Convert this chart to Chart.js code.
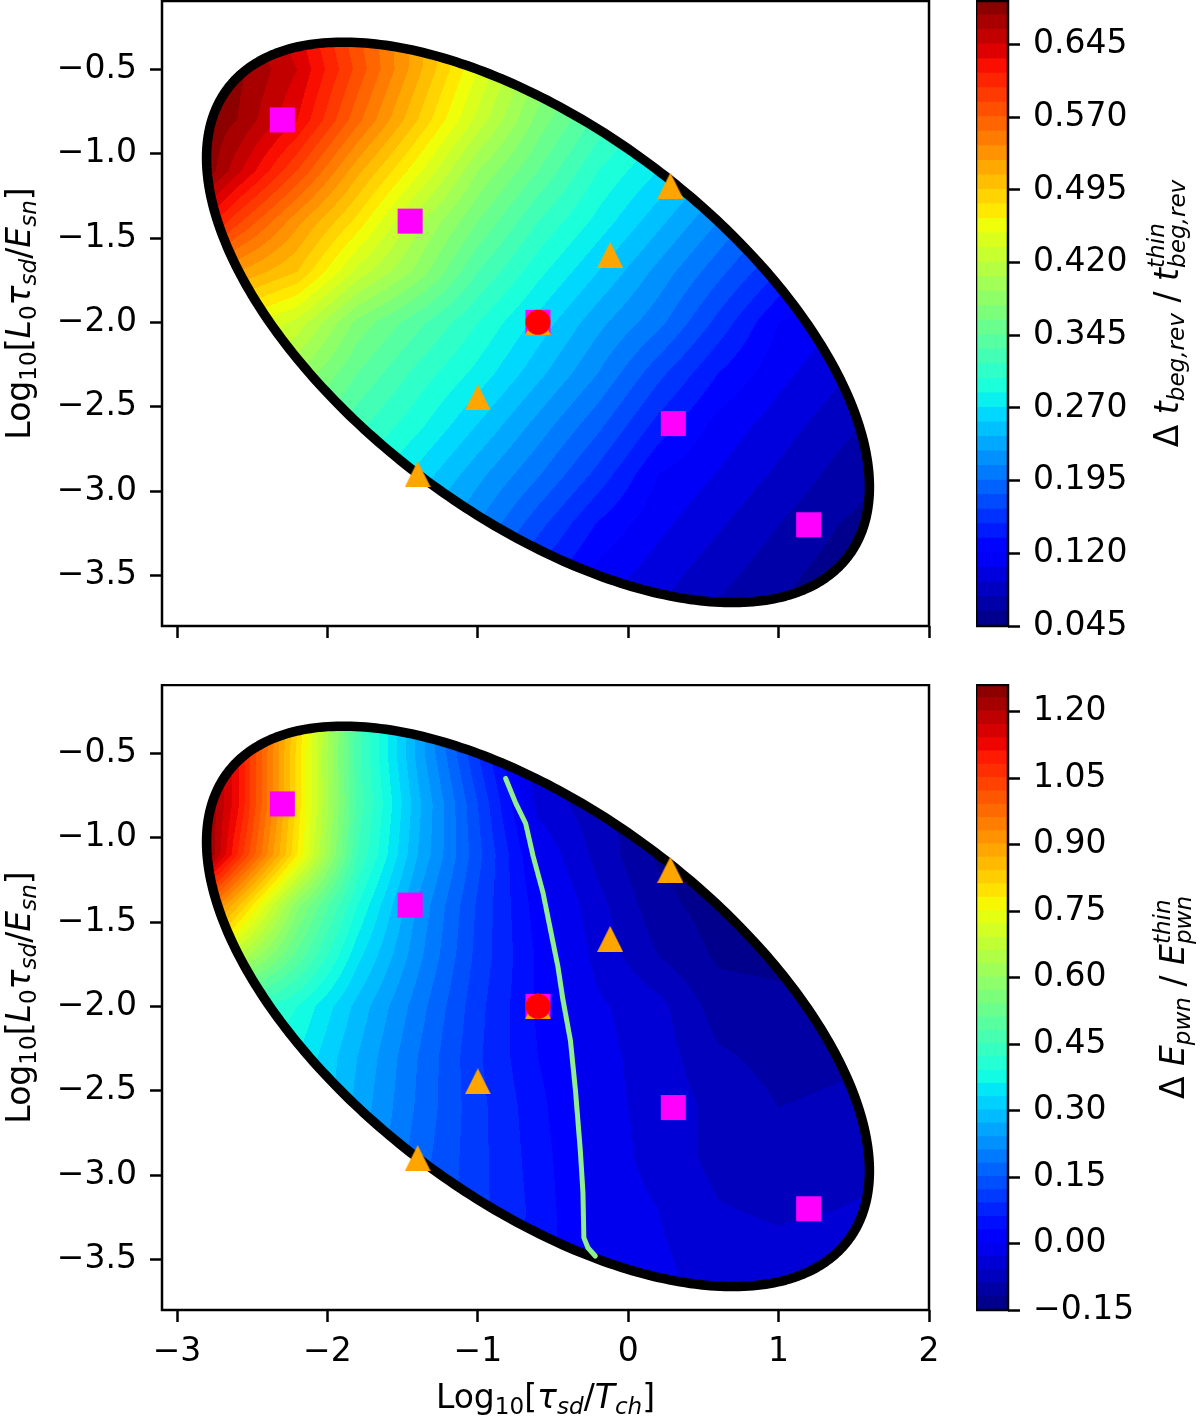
<!DOCTYPE html>
<html>
<head>
<meta charset="utf-8">
<script src="https://cdn.jsdelivr.net/npm/chart.js@4.4.0/dist/chart.umd.min.js"></script>
<style>
  html, body { margin: 0; padding: 0; background: #fff; }
  #page { position: relative; width: 1200px; height: 1418px; overflow: hidden; background: #fff; }
  #page canvas { position: absolute; }
</style>
</head>
<body>
<div id="page">
  <canvas id="main-top"></canvas>
  <canvas id="cbar-top"></canvas>
  <canvas id="main-bottom"></canvas>
  <canvas id="cbar-bottom"></canvas>
</div>
<script>
'use strict';

// ── Axes ──────────────────────────────────────────────────────
const X_RANGE = [-3.1, 2.0];
const Y_RANGE = [-3.80, -0.095];
const X_TICKS = [-3, -2, -1, 0, 1, 2];
const Y_TICKS = [-3.5, -3.0, -2.5, -2.0, -1.5, -1.0, -0.5];

// ── Markers (same in both panels) ─────────────────────────────
const SQUARE_X   = [-2.3, -1.45, -0.6, 0.3, 1.2];
const SQUARE_Y   = [-0.8, -1.4, -2.0, -2.6, -3.2];
const TRIANGLE_X = [0.28, -0.12, -0.6, -1.0, -1.4];
const TRIANGLE_Y = [-1.19, -1.6, -2.0, -2.445, -2.9];
const CENTER_X   = [-0.6];
const CENTER_Y   = [-2.0];

// ── Ellipse outline (centre, semi-axes, angle in data units) ──
const ELLIPSE_CENTER = [-0.6, -2.0];
const ELLIPSE_AXES   = [2.49, 1.19];
const ELLIPSE_ANGLE  = -32;

// ── Zero contour of the lower panel ───────────────────────────
const ZERO_X = [-0.815, -0.748, -0.682, -0.632, -0.566, -0.500, -0.467, -0.434, -0.384, -0.351, -0.318, -0.301, -0.295, -0.268, -0.219];
const ZERO_Y = [-0.649, -0.795, -0.916, -1.111, -1.329, -1.621, -1.767, -1.961, -2.204, -2.496, -2.860, -3.103, -3.371, -3.431, -3.480];

// ── Sampled fields (rows follow FIELD_Y, columns FIELD_X) ─────
const FIELD_X = [-3.0, -2.6, -2.2, -1.8, -1.4, -1.0, -0.6, -0.2, 0.2, 0.6, 1.0, 1.4, 1.8];
const FIELD_Y = [-0.2, -0.5, -0.8, -1.1, -1.4, -1.7, -2.0, -2.3, -2.6, -2.9, -3.2, -3.5, -3.8];

const TOP_FIELD = [
  [0.68, 0.67, 0.63, 0.57, 0.52, 0.46, 0.42, 0.37, 0.34, 0.30, 0.27, 0.23, 0.20],
  [0.69, 0.68, 0.645, 0.58, 0.515, 0.45, 0.39, 0.35, 0.31, 0.28, 0.245, 0.21, 0.17],
  [0.70, 0.675, 0.63, 0.56, 0.495, 0.43, 0.37, 0.325, 0.29, 0.255, 0.22, 0.19, 0.15],
  [0.72, 0.65, 0.585, 0.515, 0.455, 0.39, 0.345, 0.30, 0.27, 0.235, 0.20, 0.16, 0.12],
  [0.66, 0.59, 0.53, 0.475, 0.41, 0.36, 0.315, 0.28, 0.245, 0.21, 0.175, 0.135, 0.11],
  [0.58, 0.525, 0.495, 0.43, 0.385, 0.33, 0.29, 0.255, 0.22, 0.185, 0.15, 0.115, 0.10],
  [0.50, 0.46, 0.43, 0.37, 0.335, 0.30, 0.265, 0.23, 0.20, 0.16, 0.12, 0.105, 0.087],
  [0.51, 0.45, 0.39, 0.345, 0.31, 0.28, 0.245, 0.21, 0.17, 0.135, 0.11, 0.093, 0.075],
  [0.47, 0.41, 0.36, 0.32, 0.29, 0.255, 0.22, 0.185, 0.145, 0.115, 0.098, 0.081, 0.065],
  [0.43, 0.37, 0.335, 0.30, 0.265, 0.23, 0.197, 0.16, 0.12, 0.104, 0.087, 0.07, 0.056],
  [0.39, 0.345, 0.31, 0.275, 0.24, 0.21, 0.17, 0.133, 0.109, 0.092, 0.075, 0.06, 0.05],
  [0.357, 0.32, 0.287, 0.253, 0.22, 0.184, 0.146, 0.114, 0.097, 0.08, 0.065, 0.052, 0.05],
  [0.335, 0.30, 0.265, 0.23, 0.196, 0.158, 0.12, 0.103, 0.086, 0.069, 0.056, 0.05, 0.05]
];

const BOTTOM_FIELD = [
  [1.30, 1.15, 0.82, 0.47, 0.26, 0.07, -0.07, -0.11, -0.13, -0.13, -0.13, -0.13, -0.13],
  [1.32, 1.12, 0.80, 0.46, 0.26, 0.09, -0.06, -0.10, -0.13, -0.13, -0.13, -0.13, -0.13],
  [1.35, 1.12, 0.80, 0.47, 0.28, 0.12, -0.04, -0.08, -0.12, -0.13, -0.13, -0.13, -0.13],
  [1.40, 1.08, 0.78, 0.45, 0.27, 0.13, -0.005, -0.07, -0.125, -0.135, -0.135, -0.13, -0.13],
  [1.10, 0.85, 0.58, 0.39, 0.235, 0.115, 0.015, -0.05, -0.11, -0.135, -0.135, -0.13, -0.13],
  [0.95, 0.66, 0.50, 0.34, 0.22, 0.11, 0.025, -0.04, -0.09, -0.125, -0.13, -0.13, -0.13],
  [0.55, 0.45, 0.39, 0.29, 0.195, 0.10, 0.025, -0.025, -0.05, -0.105, -0.11, -0.11, -0.11],
  [0.48, 0.42, 0.36, 0.27, 0.18, 0.095, 0.03, -0.02, -0.045, -0.085, -0.10, -0.095, -0.09],
  [0.45, 0.40, 0.36, 0.26, 0.175, 0.10, 0.04, -0.02, -0.04, -0.07, -0.09, -0.085, -0.08],
  [0.42, 0.36, 0.32, 0.25, 0.165, 0.10, 0.045, -0.015, -0.04, -0.07, -0.08, -0.075, -0.07],
  [0.40, 0.34, 0.30, 0.24, 0.16, 0.10, 0.05, -0.015, -0.03, -0.058, -0.065, -0.06, -0.05],
  [0.38, 0.32, 0.28, 0.22, 0.15, 0.09, 0.05, -0.01, -0.025, -0.045, -0.05, -0.045, -0.04],
  [0.36, 0.30, 0.26, 0.21, 0.14, 0.09, 0.05, 0.01, -0.02, -0.04, -0.04, -0.04, -0.04]
];

// ── Contour levels and colour bar ticks ───────────────────────
const TOP_LEVEL_RANGE = [0.045, 0.690];
const TOP_LEVEL_STEP  = 0.015;
const TOP_CB_TICKS    = [0.045, 0.120, 0.195, 0.270, 0.345, 0.420, 0.495, 0.570, 0.645];

const BOTTOM_LEVEL_RANGE = [-0.15, 1.26];
const BOTTOM_LEVEL_STEP  = 0.03;
const BOTTOM_CB_TICKS    = [-0.15, 0.00, 0.15, 0.30, 0.45, 0.60, 0.75, 0.90, 1.05, 1.20];

// ── Labels (mathtext-like runs) ───────────────────────────────
const Y_LABEL = [
  { t: 'Log' }, { t: '10', sub: true }, { t: '[' }, { t: 'L', it: true }, { t: '0', sub: true },
  { t: 'τ', it: true }, { t: 'sd', it: true, sub: true }, { t: '/' }, { t: 'E', it: true },
  { t: 'sn', it: true, sub: true }, { t: ']' }
];
const X_LABEL = [
  { t: 'Log' }, { t: '10', sub: true }, { t: '[' }, { t: 'τ', it: true }, { t: 'sd', it: true, sub: true },
  { t: '/' }, { t: 'T', it: true }, { t: 'ch', it: true, sub: true }, { t: ']' }
];
const TOP_CB_LABEL = [
  { t: 'Δ ' }, { t: 't', it: true }, { t: 'beg,rev', it: true, sub: true }, { t: ' / ' },
  { t: 't', it: true }, { stack: true, sup: 'thin', sub: 'beg,rev', it: true }
];
const BOTTOM_CB_LABEL = [
  { t: 'Δ ' }, { t: 'E', it: true }, { t: 'pwn', it: true, sub: true }, { t: ' / ' },
  { t: 'E', it: true }, { stack: true, sup: 'thin', sub: 'pwn', it: true }
];

// ── Style ─────────────────────────────────────────────────────
const FONT = "'DejaVu Sans'";
const FS = 33;
const TICK_LEN = 12;
const LINE_W = 2.5;

// matplotlib 'jet'
const JET_R = [[0, 0], [0.35, 0], [0.66, 1], [0.89, 1], [1, 0.5]];
const JET_G = [[0, 0], [0.125, 0], [0.375, 1], [0.64, 1], [0.91, 0], [1, 0]];
const JET_B = [[0, 0.5], [0.11, 1], [0.34, 1], [0.65, 0], [1, 0]];

function jet(t) {
  const seg = pts => {
    for (let i = 1; i < pts.length; i++) {
      if (t <= pts[i][0]) {
        const [x0, y0] = pts[i - 1], [x1, y1] = pts[i];
        return y0 + (y1 - y0) * (t - x0) / (x1 - x0);
      }
    }
    return pts[pts.length - 1][1];
  };
  return [seg(JET_R), seg(JET_G), seg(JET_B)].map(c => Math.round(c * 255));
}

function makeLevels(range, step) {
  const n = Math.round((range[1] - range[0]) / step);
  const bands = [];
  for (let k = 0; k < n; k++) {
    bands.push({ lo: range[0] + k * step, hi: range[0] + (k + 1) * step, rgb: jet((k + 0.5) / n) });
  }
  return { lo: range[0], hi: range[1], step, bands };
}

const fmt = (v, d) => (v < -1e-9 ? '\u2212' : '') + Math.abs(v).toFixed(d);

// bilinear sample of a field
function sampleField(field, x, y) {
  const gx = (x - FIELD_X[0]) / (FIELD_X[1] - FIELD_X[0]);
  const gy = (y - FIELD_Y[0]) / (FIELD_Y[1] - FIELD_Y[0]);
  const i = Math.max(0, Math.min(FIELD_X.length - 2, Math.floor(gx)));
  const j = Math.max(0, Math.min(FIELD_Y.length - 2, Math.floor(gy)));
  const fx = Math.max(0, Math.min(1, gx - i));
  const fy = Math.max(0, Math.min(1, gy - j));
  const a = field[j][i], b = field[j][i + 1], c = field[j + 1][i], d = field[j + 1][i + 1];
  return (a * (1 - fx) + b * fx) * (1 - fy) + (c * (1 - fx) + d * fx) * fy;
}

const EL_COS = Math.cos(ELLIPSE_ANGLE * Math.PI / 180);
const EL_SIN = Math.sin(ELLIPSE_ANGLE * Math.PI / 180);
function ellipseR2(x, y) {
  const dx = x - ELLIPSE_CENTER[0], dy = y - ELLIPSE_CENTER[1];
  const u = dx * EL_COS + dy * EL_SIN, w = -dx * EL_SIN + dy * EL_COS;
  return (u / ELLIPSE_AXES[0]) ** 2 + (w / ELLIPSE_AXES[1]) ** 2;
}

// ── Mathtext-ish label drawing ────────────────────────────────
function fontFor(it, size) { return (it ? 'italic ' : '') + size + 'px ' + FONT; }

function drawMath(ctx, runs, x, y, fs, rotate) {
  const small = fs * 0.7;
  const SUB = fs * 0.17, SUP = -fs * 0.42;
  ctx.save();
  ctx.translate(x, y);
  if (rotate) ctx.rotate(-Math.PI / 2);
  ctx.fillStyle = '#000';
  ctx.textBaseline = 'alphabetic';
  ctx.textAlign = 'left';
  const widths = runs.map(r => {
    if (r.stack) {
      ctx.font = fontFor(r.it, small);
      return Math.max(ctx.measureText(r.sup).width, ctx.measureText(r.sub).width);
    }
    ctx.font = fontFor(r.it, (r.sub || r.sup) ? small : fs);
    return ctx.measureText(r.t).width;
  });
  let cx = -widths.reduce((s, w) => s + w, 0) / 2;
  runs.forEach((r, i) => {
    if (r.stack) {
      ctx.font = fontFor(r.it, small);
      ctx.fillText(r.sup, cx, SUP);
      ctx.fillText(r.sub, cx, SUB + fs * 0.05);
    } else {
      ctx.font = fontFor(r.it, (r.sub || r.sup) ? small : fs);
      ctx.fillText(r.t, cx, r.sub ? SUB : (r.sup ? SUP : 0));
    }
    cx += widths[i];
  });
  ctx.restore();
}

// ── Plugins ───────────────────────────────────────────────────
function contourPlugin(field, levels) {
  return {
    id: 'contourFill',
    beforeDatasetsDraw(chart) {
      const { ctx, chartArea: a, scales } = chart;
      const xs = scales.x, ys = scales.y;
      const w = Math.round(a.right - a.left), h = Math.round(a.bottom - a.top);
      const off = document.createElement('canvas');
      off.width = w; off.height = h;
      const octx = off.getContext('2d');
      const img = octx.createImageData(w, h);
      const colX = [], rowY = [];
      for (let i = 0; i < w; i++) colX.push(xs.getValueForPixel(a.left + i + 0.5));
      for (let j = 0; j < h; j++) rowY.push(ys.getValueForPixel(a.top + j + 0.5));
      const n = levels.bands.length;
      for (let j = 0; j < h; j++) {
        for (let i = 0; i < w; i++) {
          const xv = colX[i], yv = rowY[j];
          if (ellipseR2(xv, yv) > 1) continue;
          const v = sampleField(field, xv, yv);
          const k = Math.max(0, Math.min(n - 1, Math.floor((v - levels.lo) / levels.step)));
          const rgb = levels.bands[k].rgb;
          const p = (j * w + i) * 4;
          img.data[p] = rgb[0]; img.data[p + 1] = rgb[1]; img.data[p + 2] = rgb[2]; img.data[p + 3] = 255;
        }
      }
      octx.putImageData(img, 0, 0);
      ctx.save();
      ctx.drawImage(off, a.left, a.top);
      // ellipse outline through the scales
      ctx.beginPath();
      for (let d = 0; d <= 360; d++) {
        const t = d * Math.PI / 180;
        const u = ELLIPSE_AXES[0] * Math.cos(t), s = ELLIPSE_AXES[1] * Math.sin(t);
        const px = xs.getPixelForValue(ELLIPSE_CENTER[0] + u * EL_COS - s * EL_SIN);
        const py = ys.getPixelForValue(ELLIPSE_CENTER[1] + u * EL_SIN + s * EL_COS);
        if (d === 0) ctx.moveTo(px, py); else ctx.lineTo(px, py);
      }
      ctx.closePath();
      ctx.lineWidth = 9.5;
      ctx.strokeStyle = '#000';
      ctx.lineJoin = 'round';
      ctx.stroke();
      ctx.restore();
    }
  };
}

function framePlugin(labels) {
  return {
    id: 'frameAndTitles',
    afterDraw(chart) {
      const { ctx, chartArea: a } = chart;
      ctx.save();
      ctx.lineWidth = LINE_W;
      ctx.strokeStyle = '#000';
      ctx.strokeRect(a.left, a.top, a.right - a.left, a.bottom - a.top);
      ctx.restore();
      const midY = (a.top + a.bottom) / 2;
      if (labels.y) drawMath(ctx, labels.y, labels.yAt, midY, FS, true);
      if (labels.x) drawMath(ctx, labels.x, (a.left + a.right) / 2, labels.xAt, FS, false);
    }
  };
}

function triangleMarker(size, color) {
  const c = document.createElement('canvas');
  c.width = size; c.height = size;
  const g = c.getContext('2d');
  g.fillStyle = color;
  g.beginPath();
  g.moveTo(size / 2, 0);
  g.lineTo(size, size);
  g.lineTo(0, size);
  g.closePath();
  g.fill();
  return c;
}

const pts = (xs, ys) => xs.map((x, i) => ({ x, y: ys[i] }));

function setupCanvas(id, left, top, width, height) {
  const c = document.getElementById(id);
  c.width = width; c.height = height;
  c.style.left = left + 'px'; c.style.top = top + 'px';
  c.style.width = width + 'px'; c.style.height = height + 'px';
  return c;
}

// fixed axis box, no label overhang padding
function fixSize(dim, size) {
  return s => {
    s[dim] = size;
    s.paddingTop = 0; s.paddingBottom = 0; s.paddingLeft = 0; s.paddingRight = 0;
  };
}

const tickFont = { family: FONT, size: FS };

// ── Main panel ────────────────────────────────────────────────
function renderPanel(id, top, height, xAxisH, field, levels, opts) {
  const canvas = setupCanvas(id, 0, top, 950, height);
  const datasets = [];
  if (opts.zeroLine) {
    datasets.push({
      type: 'line', data: pts(ZERO_X, ZERO_Y), borderColor: '#90ee90', borderWidth: 5,
      pointRadius: 0, tension: 0, borderCapStyle: 'round', borderJoinStyle: 'round', order: 4
    });
  }
  datasets.push({
    data: pts(SQUARE_X, SQUARE_Y), pointStyle: 'rect', pointRadius: 17.7, pointHoverRadius: 17.7,
    backgroundColor: '#ff00ff', borderWidth: 0, order: 3
  });
  datasets.push({
    data: pts(TRIANGLE_X, TRIANGLE_Y), pointStyle: triangleMarker(26, '#ffa500'),
    pointRadius: 13, backgroundColor: '#ffa500', borderWidth: 0, order: 2
  });
  datasets.push({
    data: pts(CENTER_X, CENTER_Y), pointStyle: 'circle', pointRadius: 12.5, pointHoverRadius: 12.5,
    backgroundColor: '#ff0000', borderWidth: 0, order: 1
  });

  return new Chart(canvas, {
    type: 'scatter',
    data: { datasets },
    options: {
      responsive: false, animation: false, events: [],
      layout: { padding: { left: 0, right: 21, top: 1, bottom: 0 }, autoPadding: false },
      plugins: { legend: { display: false }, tooltip: { enabled: false } },
      scales: {
        x: {
          type: 'linear', min: X_RANGE[0], max: X_RANGE[1],
          afterBuildTicks: s => { s.ticks = X_TICKS.map(v => ({ value: v })); },
          afterFit: fixSize('height', xAxisH),
          border: { display: false },
          grid: { drawOnChartArea: false, drawTicks: true, tickLength: TICK_LEN, tickWidth: LINE_W, tickColor: '#000' },
          ticks: {
            autoSkip: false, maxRotation: 0, padding: 11, font: tickFont,
            color: opts.xLabels ? '#000' : 'rgba(0,0,0,0)', callback: v => fmt(v, 0)
          }
        },
        y: {
          type: 'linear', min: Y_RANGE[0], max: Y_RANGE[1],
          afterBuildTicks: s => { s.ticks = Y_TICKS.map(v => ({ value: v })); },
          afterFit: fixSize('width', 162),
          border: { display: false },
          grid: { drawOnChartArea: false, drawTicks: true, tickLength: TICK_LEN, tickWidth: LINE_W, tickColor: '#000' },
          ticks: { autoSkip: false, padding: 13, font: tickFont, color: '#000', callback: v => fmt(v, 1) }
        }
      }
    },
    plugins: [
      contourPlugin(field, levels),
      framePlugin({ y: Y_LABEL, yAt: 30, x: opts.xLabels ? X_LABEL : null, xAt: 724 })
    ]
  });
}

// ── Colour bar ────────────────────────────────────────────────
function renderColorbar(id, top, height, padBottom, levels, ticks, digits, label, labelAt) {
  const canvas = setupCanvas(id, 976, top, 224, height);
  const datasets = levels.bands.map(b => ({
    data: [[b.lo, b.hi]],
    backgroundColor: `rgb(${b.rgb[0]},${b.rgb[1]},${b.rgb[2]})`,
    borderWidth: 0, inflateAmount: 1, barPercentage: 1, categoryPercentage: 1, grouped: false
  }));
  return new Chart(canvas, {
    type: 'bar',
    data: { labels: ['cb'], datasets },
    options: {
      responsive: false, animation: false, events: [],
      layout: { padding: { left: 0, right: 0, top: 1, bottom: padBottom }, autoPadding: false },
      plugins: { legend: { display: false }, tooltip: { enabled: false } },
      scales: {
        x: { display: false },
        y: {
          position: 'right', min: levels.lo, max: levels.hi,
          afterBuildTicks: s => { s.ticks = ticks.map(v => ({ value: v })); },
          afterFit: fixSize('width', 192),
          border: { display: false },
          grid: { drawOnChartArea: false, drawTicks: true, tickLength: TICK_LEN, tickWidth: LINE_W, tickColor: '#000' },
          ticks: { autoSkip: false, padding: 13, font: tickFont, color: '#000', callback: v => fmt(v, digits) }
        }
      }
    },
    plugins: [{
      id: 'cbFrame',
      afterDraw(chart) {
        const { ctx, chartArea: a } = chart;
        ctx.save();
        ctx.lineWidth = LINE_W;
        ctx.strokeStyle = '#000';
        ctx.strokeRect(a.left, a.top, a.right - a.left, a.bottom - a.top);
        ctx.restore();
        drawMath(ctx, label, labelAt, (a.top + a.bottom) / 2, FS, true);
      }
    }]
  });
}

const topLevels = makeLevels(TOP_LEVEL_RANGE, TOP_LEVEL_STEP);
const bottomLevels = makeLevels(BOTTOM_LEVEL_RANGE, BOTTOM_LEVEL_STEP);

renderPanel('main-top', 0, 660, 34, TOP_FIELD, topLevels, { xLabels: false, zeroLine: false });
renderColorbar('cbar-top', 0, 660, 34, topLevels, TOP_CB_TICKS, 3, TOP_CB_LABEL, 202);
renderPanel('main-bottom', 684, 734, 108, BOTTOM_FIELD, bottomLevels, { xLabels: true, zeroLine: true });
renderColorbar('cbar-bottom', 684, 734, 108, bottomLevels, BOTTOM_CB_TICKS, 2, BOTTOM_CB_LABEL, 208);
</script>
</body>
</html>
